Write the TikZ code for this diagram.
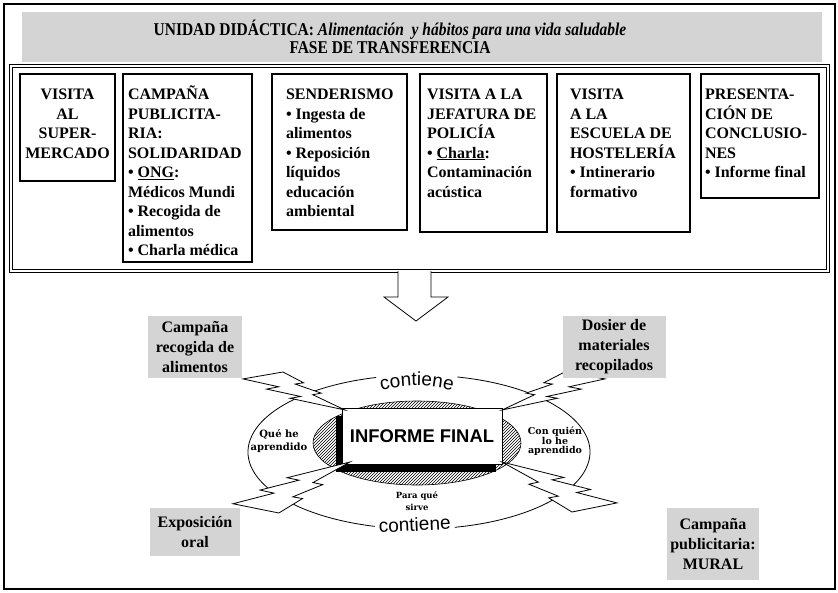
\documentclass[tikz,border=0pt]{standalone}
\usepackage{fontspec}
\setmainfont{Liberation Serif}
\newfontfamily\sansfont{Liberation Sans}
\newfontfamily\titlefont[FakeStretch=0.86]{Liberation Serif}
\newfontfamily\heavyfont{DejaVu Serif}
\usetikzlibrary{positioning, patterns, shadows, decorations.text}
\definecolor{halftone}{RGB}{212, 212, 212}
\newcommand\topstrut{\rule{0pt}{16.5pt}}

\tikzset{zap/.pic={
  \draw[zapline] (0.3916,0) -- (0,0.1816) -- (0.3502,0.3896) -- (0.2312,0.45) -- (0.5647,0.6437)
    -- (0.4624,0.6914) -- (1,1) -- (0.6837,0.5977) -- (0.7666,0.5563) -- (0.5106,0.3167)
    -- (0.5940,0.2833) -- cycle;
}}

\begin{document}
\begin{tikzpicture}[x=1pt, y=-1pt]

\tikzstyle{actbox} = [draw, line width=2pt, outer sep=0pt, anchor=north west, inner ysep=9pt, font=\bfseries\fontsize{16}{19.5}\selectfont]
\tikzstyle{graylabel} = [fill=halftone, align=center, font=\bfseries\fontsize{16}{20}\selectfont]
\tikzstyle{bubble} = [align=center, inner sep=0pt, font=\heavyfont\bfseries\fontsize{10}{13}\selectfont]
\tikzstyle{contiene} = [decorate, decoration={text along path, text align=center,
  text={|\sansfont\fontsize{19}{19}\selectfont|contiene}}]
\tikzstyle{zapline} = [draw, fill=white, line width=0.8pt]

\useasboundingbox (0,0) rectangle (838,592);
\draw[line width=1.5pt] (4,4) rectangle (835,589);

% cabecera
\fill[halftone] (22,12) rectangle (822,62);
\node[align=center, font=\titlefont\bfseries\fontsize{18}{18}\selectfont] (title) at (390,37)
  {UNIDAD DIDÁCTICA: \textit{Alimentación \ y hábitos para una vida saludable}\\ FASE DE TRANSFERENCIA};

\draw[double, line width=1.3pt, double distance=2pt] (11,66) rectangle (828,271);

% actividades
\node[actbox, inner xsep=5pt] (super) at (20,74)
  {\parbox[t][89pt][t]{85pt}{\centering\topstrut VISITA\\ AL\\ SUPER-\\ MERCADO}};
\node[actbox, inner xsep=5pt, right=8pt of super.north east, anchor=north west] (campana)
  {\parbox[t][170pt][t]{119pt}{\raggedright\topstrut CAMPAÑA\\ PUBLICITA-\\ RIA:\\ SOLIDARIDAD\\
   • \underline{ONG}:\\ Médicos Mundi\\ • Recogida de\\ alimentos\\ • Charla médica}};
\node[actbox, inner xsep=14pt, right=20pt of campana.north east, anchor=north west] (senderismo)
  {\parbox[t][138pt][t]{107pt}{\raggedright\topstrut SENDERISMO\\ • Ingesta de\\ alimentos\\ • Reposición\\
   líquidos\\ educación\\ ambiental}};
\node[actbox, inner xsep=7pt, right=13pt of senderismo.north east, anchor=north west] (policia)
  {\parbox[t][140pt][t]{113pt}{\raggedright\topstrut VISITA A LA\\ JEFATURA DE\\ POLICÍA\\
   • \underline{Charla}:\\ Contaminación\\ acústica}};
\node[actbox, inner xsep=13pt, right=10pt of policia.north east, anchor=north west] (hosteleria)
  {\parbox[t][140pt][t]{107pt}{\raggedright\topstrut VISITA\\ A LA\\ ESCUELA DE\\ HOSTELERÍA\\
   • Intinerario\\ formativo}};
\node[actbox, inner xsep=4pt, right=11pt of hosteleria.north east, anchor=north west] (conclusiones)
  {\parbox[t][106pt][t]{110pt}{\raggedright\topstrut PRESENTA-\\ CIÓN DE\\ CONCLUSIO-\\ NES\\ • Informe final}};

\draw[line width=0.8pt, fill=white] (398,271) -- (398,297) -- (384,297) -- (416,321)
  -- (448,297) -- (431,297) -- (431,271);

% informe final
\coordinate (centro) at (419,452);
\draw[line width=0.8pt] (centro) ++(105:171 and 77) arc [start angle=105, end angle=255.5, x radius=171, y radius=77];
\draw[line width=0.8pt] (centro) ++(283:171 and 77) arc [start angle=283, end angle=438, x radius=171, y radius=77];
\path[contiene] (376,392) arc [start angle=253, end angle=287, radius=140];
\path[contiene] (374,533) -- (456,529);

\draw[line width=0.6pt, pattern=north east lines] (417,443) ellipse [x radius=104, y radius=42];
\node[draw, fill=white, line width=1pt, minimum width=160pt, minimum height=56pt,
  general shadow={fill=black, shadow xshift=-6pt, shadow yshift=-8pt},
  font=\sansfont\bfseries\fontsize{18.4}{20}\selectfont] (informe) at (422,436) {INFORME FINAL};

\node[bubble] (aprendido) at (279,441) {Qué he\\ aprendido};
\node[bubble, font=\heavyfont\bfseries\fontsize{9.5}{9}\selectfont] (quien) at (555,441) {Con quién\\ lo he\\ aprendido};
\node[bubble, font=\heavyfont\bfseries\fontsize{8.5}{12.5}\selectfont] (sirve) at (417,501) {Para qué\\ sirve};

\pic[xscale=102, yscale=38] at (243,372) {zap};
\pic[xscale=-103, yscale=38] at (605,372) {zap};
\pic[xscale=117, yscale=-51] at (233,513) {zap};
\pic[xscale=-115, yscale=-50] at (617,512) {zap};

\node[graylabel, minimum width=94pt, minimum height=62pt] (recogida) at (195,347) {Campaña\\ recogida de\\ alimentos};
\node[graylabel, minimum width=103pt, minimum height=62pt] (dosier) at (614,347) {Dosier de\\ materiales\\ recopilados};
\node[graylabel, minimum width=90pt, minimum height=48pt] (exposicion) at (195,532) {Exposición\\ oral};
\node[graylabel, minimum width=90pt, minimum height=72pt] (mural) at (713,544) {Campaña\\ publicitaria:\\ MURAL};

\end{tikzpicture}
\end{document}
